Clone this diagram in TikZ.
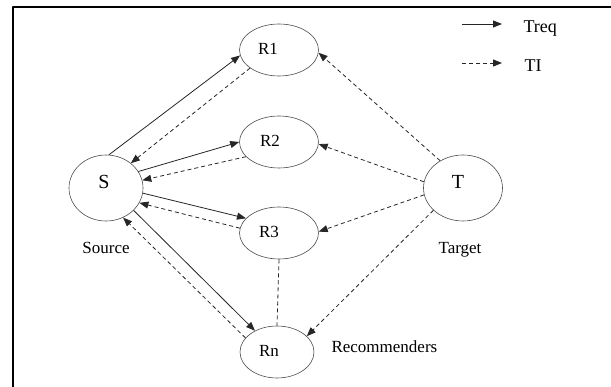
\documentclass[tikz,border=0pt]{standalone}
\usepackage{fontspec}
\setmainfont{Liberation Serif}
\usepackage{tikz}
\usetikzlibrary{shapes.geometric}
\usetikzlibrary{arrows.meta}
\tikzstyle{every node}=[font=\fontsize{17pt}{20pt}\selectfont]

\begin{document}
\begin{tikzpicture}[line cap=butt,line join=round,>={Triangle[length=9pt,width=7pt]},x=1pt,y=-1pt,
    agent/.style={ellipse,draw=black!70,line width=0.6pt,inner sep=0pt},
    treq/.style={->,line width=0.8pt,color=black!85},
    ti/.style={->,line width=0.8pt,color=black!85,dash pattern=on 4pt off 3pt},
    tilink/.style={line width=0.8pt,color=black!85,dash pattern=on 4pt off 3pt}]

            \useasboundingbox (0,0) rectangle (611,387);
            \draw [line width=2pt] (13,387) -- (13,7) -- (611,7);

            % source, target and recommenders
            \node[agent,minimum width=74pt,minimum height=66pt,label={[xshift=-2pt,yshift=6pt,font=\fontsize{20pt}{24pt}\selectfont]center:S}] (S) at (106,188) {};
            \node[agent,minimum width=79pt,minimum height=66pt,label={[xshift=-5pt,yshift=6pt,font=\fontsize{20pt}{24pt}\selectfont]center:T}] (T) at (463,188) {};
            \node[agent,minimum width=79pt,minimum height=52pt,label={[xshift=-11pt,yshift=1pt]center:R1}] (R1) at (279,50) {};
            \node[agent,minimum width=79pt,minimum height=52pt,label={[xshift=-9pt,yshift=1pt]center:R2}] (R2) at (279,142) {};
            \node[agent,minimum width=79pt,minimum height=52pt,label={[xshift=-10pt,yshift=1pt]center:R3}] (R3) at (279,233) {};
            \node[agent,minimum width=74pt,minimum height=52pt,label={[xshift=-8pt,yshift=1pt]center:Rn}] (Rn) at (277,352) {};

            \node[anchor=base] (src) at (106,254) {Source};
            \node[anchor=base] (tgt) at (460,254) {Target};
            \node[anchor=base west] (rec) at (328,353) {Recommenders};

            % trust requests and trust information
            \draw[treq] (S.85) -- (R1.188);
            \draw[ti] (R1.212) -- (S.45);
            \draw[treq] (S.27) -- (R2.180);
            \draw[ti] (R2.204) -- (S.12);
            \draw[treq] (S.-8) -- (R3.156);
            \draw[ti] (R3.173) -- (S.-24);
            \draw[treq] (S.-39) -- (Rn.136);
            \draw[ti] (Rn.156) -- (S.-60);
            \draw[ti] (T.130) -- (R1.-4);
            \draw[ti] (T.171) -- (R2.-3);
            \draw[ti] (T.190) -- (R3.2);
            \draw[ti] (T.217) -- (Rn.28);
            \draw[tilink] (R3.south) -- (Rn.north);

            % legend
            \coordinate (lgtreqA) at (462,24);
            \coordinate (lgtreqB) at (502,24);
            \coordinate (lgtiA) at (462,63);
            \coordinate (lgtiB) at (502,63);
            \draw[treq] (lgtreqA) -- (lgtreqB);
            \draw[ti] (lgtiA) -- (lgtiB);
            \node[anchor=base west,font=\fontsize{18pt}{21pt}\selectfont] (lgtreq) at (520,33) {Treq};
            \node[anchor=base west,font=\fontsize{18pt}{21pt}\selectfont] (lgti) at (521,72) {TI};
\end{tikzpicture}
\end{document}
